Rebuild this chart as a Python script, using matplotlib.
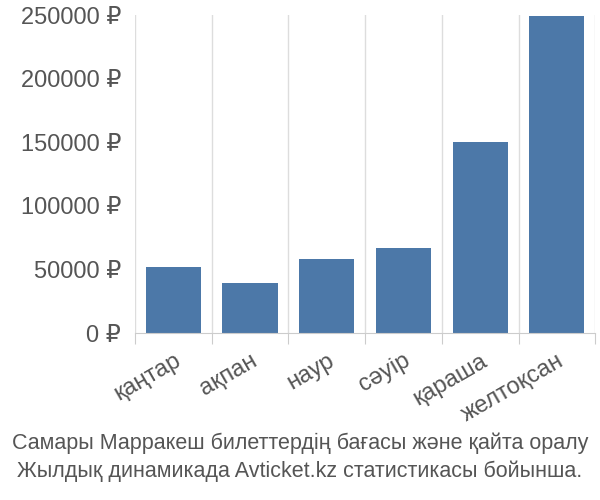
import matplotlib
matplotlib.use("Agg")
import matplotlib.pyplot as plt
import numpy as np

cats = ["қаңтар", "ақпан", "наур", "сәуір", "қараша", "желтоқсан"]
vals = [51500, 39500, 58500, 67000, 150000, 249000]
yticks = [0, 50000, 100000, 150000, 200000, 250000]

plt.rcParams['font.family'] = ['Liberation Sans', 'DejaVu Sans']
fig = plt.figure(figsize=(6, 5), dpi=100)
ax = fig.add_axes([0.225, 0.334, 0.767, 0.636])
x = np.arange(len(cats))
ax.bar(x, vals, width=0.72, color="#4c78a8", zorder=2)
ax.set_xlim(-0.5, len(cats) - 0.5)
ax.set_ylim(0, 250000)
for b in np.arange(-0.5, len(cats), 1):
    ax.axvline(b, color="#dddddd", lw=1, zorder=1)
ax.set_xticks(np.arange(-0.5, len(cats), 1), minor=False)
ax.set_xticklabels([])
ax.set_xticks(x, minor=True)
ax.set_xticklabels(cats, minor=True, rotation=30, ha="right", rotation_mode="anchor",
                   fontsize=17, color="#555555")
ax.tick_params(axis="x", which="minor", length=0, pad=12)
ax.tick_params(axis="x", which="major", length=8, color="#cccccc")
ax.set_yticks(yticks)
ax.set_yticklabels([f"{v} ₽" for v in yticks], fontsize=17, color="#555555")
ax.tick_params(axis="y", length=0, pad=10)
for s in ["top", "right", "left"]:
    ax.spines[s].set_visible(False)
ax.spines["bottom"].set_color("#cccccc")
fig.text(0.5, 0.085, "Самары Марракеш билеттердің бағасы және қайта оралу\nЖылдық динамикада Avticket.kz статистикасы бойынша.",
         ha="center", va="center", fontsize=15.5, color="#555555", linespacing=1.4)
fig.savefig("out.png")
